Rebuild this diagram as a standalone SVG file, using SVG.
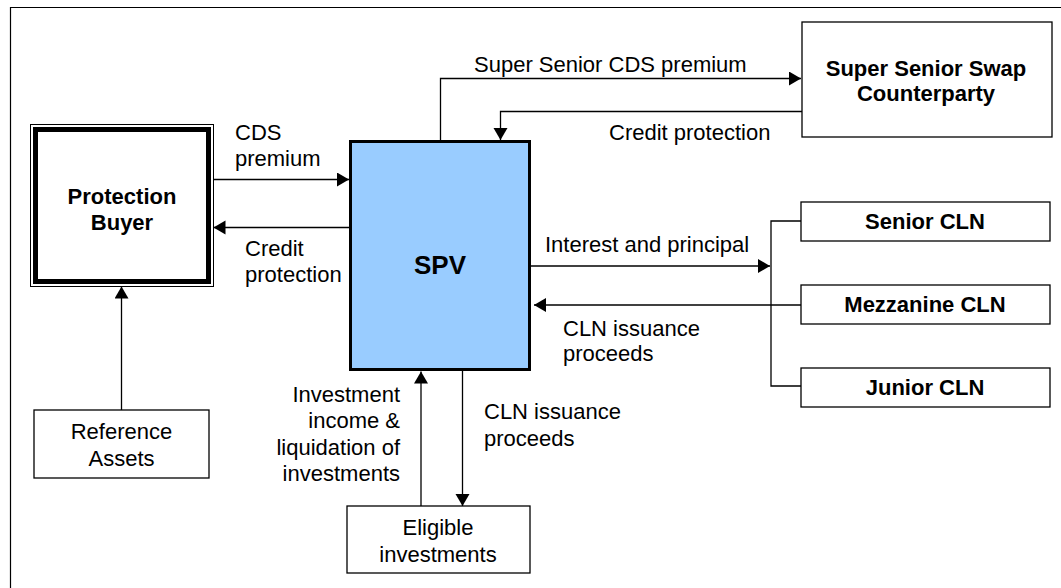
<svg xmlns="http://www.w3.org/2000/svg" width="1061" height="588" viewBox="0 0 1061 588">
<style>
  text { font-family: "Liberation Sans", Arial, sans-serif; fill: #000; }
  .lbl { font-size: 22px; }
  .b { font-size: 22px; font-weight: bold; }
  .box { fill: #fff; stroke: #000; stroke-width: 1.3; }
  .conn { fill: none; stroke: #000; stroke-width: 1.3; }
</style>
<defs>
  <marker id="arr" markerUnits="userSpaceOnUse" markerWidth="13" markerHeight="15" refX="12" refY="7" orient="auto" viewBox="0 0 13 15">
    <path d="M0,0 L12,7 L0,14 Z" fill="#000"/>
  </marker>
</defs>
<rect width="1061" height="588" fill="#fff"/>
<path d="M10.5,588 V7.5 H1061" fill="none" stroke="#000" stroke-width="1.2"/>

<g id="connectors">
  <path class="conn" d="M440.5,141 V78.5 H801" marker-end="url(#arr)"/>
  <path class="conn" d="M802,111.5 H500.5 V140" marker-end="url(#arr)"/>
  <path class="conn" d="M213,179.5 H349" marker-end="url(#arr)"/>
  <path class="conn" d="M349,227.5 H213.5" marker-end="url(#arr)"/>
  <path class="conn" d="M531,266 H770" marker-end="url(#arr)"/>
  <path class="conn" d="M801,305 H534" marker-end="url(#arr)"/>
  <path class="conn" d="M801,221 H771 V386 H801"/>
  <path class="conn" d="M121.5,410 V286.5" marker-end="url(#arr)"/>
  <path class="conn" d="M421,506 V371.5" marker-end="url(#arr)"/>
  <path class="conn" d="M462.5,371 V506" marker-end="url(#arr)"/>
  <text class="lbl" x="474" y="72">Super Senior CDS premium</text>
  <text class="lbl" x="609" y="140">Credit protection</text>
  <text class="lbl" x="235" y="140">CDS</text>
  <text class="lbl" x="235" y="166">premium</text>
  <text class="lbl" x="245" y="256">Credit</text>
  <text class="lbl" x="245" y="282">protection</text>
  <text class="lbl" x="545" y="252">Interest and principal</text>
  <text class="lbl" x="563" y="336">CLN issuance</text>
  <text class="lbl" x="563" y="361">proceeds</text>
  <text class="lbl" x="400" y="402" text-anchor="end">Investment</text>
  <text class="lbl" x="400" y="428" text-anchor="end">income &amp;</text>
  <text class="lbl" x="400" y="455" text-anchor="end">liquidation of</text>
  <text class="lbl" x="400" y="481" text-anchor="end">investments</text>
  <text class="lbl" x="484" y="419">CLN issuance</text>
  <text class="lbl" x="484" y="446">proceeds</text>
</g>

<g id="protection-buyer">
  <rect x="30.5" y="124.5" width="183" height="162" fill="#fff" stroke="#000" stroke-width="1"/>
  <rect x="35.5" y="129.5" width="173" height="152" fill="#fff" stroke="#000" stroke-width="5"/>
  <text class="b" x="122" y="204" text-anchor="middle">Protection</text>
  <text class="b" x="122" y="230" text-anchor="middle">Buyer</text>
</g>

<g id="spv">
  <rect x="350.5" y="141.5" width="179" height="228" fill="#99CCFF" stroke="#000" stroke-width="3"/>
  <text x="440" y="274" text-anchor="middle" font-size="26" font-weight="bold">SPV</text>
</g>

<g id="super-senior">
  <rect class="box" x="802" y="22" width="250" height="115"/>
  <text class="b" x="926" y="76" text-anchor="middle">Super Senior Swap</text>
  <text class="b" x="926" y="101" text-anchor="middle">Counterparty</text>
</g>

<g id="senior-cln">
  <rect class="box" x="801" y="202" width="249" height="39"/>
  <text class="b" x="925" y="229" text-anchor="middle">Senior CLN</text>
</g>

<g id="mezzanine-cln">
  <rect class="box" x="801" y="285" width="249" height="39"/>
  <text class="b" x="925" y="312" text-anchor="middle">Mezzanine CLN</text>
</g>

<g id="junior-cln">
  <rect class="box" x="801" y="368" width="249" height="39"/>
  <text class="b" x="925" y="395" text-anchor="middle">Junior CLN</text>
</g>

<g id="reference-assets">
  <rect class="box" x="34" y="410" width="175" height="68"/>
  <text class="lbl" x="121.5" y="439" text-anchor="middle">Reference</text>
  <text class="lbl" x="121.5" y="466" text-anchor="middle">Assets</text>
</g>

<g id="eligible-investments">
  <rect class="box" x="347" y="506" width="183" height="67"/>
  <text class="lbl" x="438" y="535" text-anchor="middle">Eligible</text>
  <text class="lbl" x="438" y="562" text-anchor="middle">investments</text>
</g>
</svg>
